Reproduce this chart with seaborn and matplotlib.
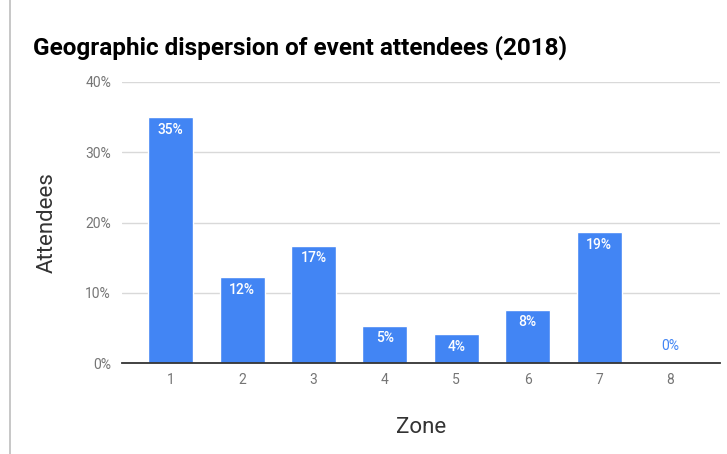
import matplotlib
matplotlib.use("Agg")
import matplotlib.pyplot as plt
import seaborn as sns
import pandas as pd
from matplotlib.lines import Line2D

zones = ["1", "2", "3", "4", "5", "6", "7", "8"]
attendees = [35.0, 12.2, 16.7, 5.3, 4.1, 7.6, 18.6, 0.0]
y_ticks = [0, 10, 20, 30, 40]
y_tick_labels = ["0%", "10%", "20%", "30%", "40%"]

sns.set_theme(style="white")
plt.rcParams['font.family'] = ['Roboto', 'DejaVu Sans']

df = pd.DataFrame({"Zone": zones, "Attendees": attendees})

fig = plt.figure(figsize=(7.27, 4.54), dpi=100)
ax = fig.add_axes([0.168, 0.2004, 0.822, 0.619])

BLUE = "#4285F4"
sns.barplot(data=df, x="Zone", y="Attendees", color=BLUE, width=0.63,
            saturation=1, ax=ax, zorder=3)

ax.set_ylim(0, 40)
ax.set_xlim(-0.68, 7.69)
ax.set_yticks(y_ticks)
ax.set_yticklabels(y_tick_labels)
ax.yaxis.grid(True, color="#d9d9d9", linewidth=1, zorder=0)
ax.set_axisbelow(True)
for s in ["top", "right", "left"]:
    ax.spines[s].set_visible(False)
ax.spines["bottom"].set_color("#333333")
ax.spines["bottom"].set_linewidth(1.3)
ax.spines["bottom"].set_zorder(4)
ax.tick_params(axis="both", length=0, labelsize=10, labelcolor="#757575")
ax.tick_params(axis="y", pad=8)
ax.tick_params(axis="x", pad=7)

for i, v in enumerate(attendees):
    if v >= 3:
        ax.text(i, v - 0.8, f"{round(v):d}%", ha="center", va="top",
                color="white", fontsize=10, fontweight="medium", zorder=5)
    else:
        ax.text(i, v + 1.4, f"{round(v):d}%", ha="center", va="bottom",
                color=BLUE, fontsize=10, zorder=5)

ax.set_xlabel("Zone", fontsize=16, color="#333333", labelpad=22)
ax.set_ylabel("Attendees", fontsize=16, color="#333333", labelpad=20)

fig.text(33 / 727, 1 - 48 / 454, "Geographic dispersion of event attendees (2018)",
         fontsize=17.5, fontweight="bold", color="black", ha="left", va="center")

fig.add_artist(Line2D([10 / 727, 10 / 727], [0, 1], color="#bdbdbd", linewidth=1.2,
                      transform=fig.transFigure))

fig.savefig("out.png", dpi=100)
